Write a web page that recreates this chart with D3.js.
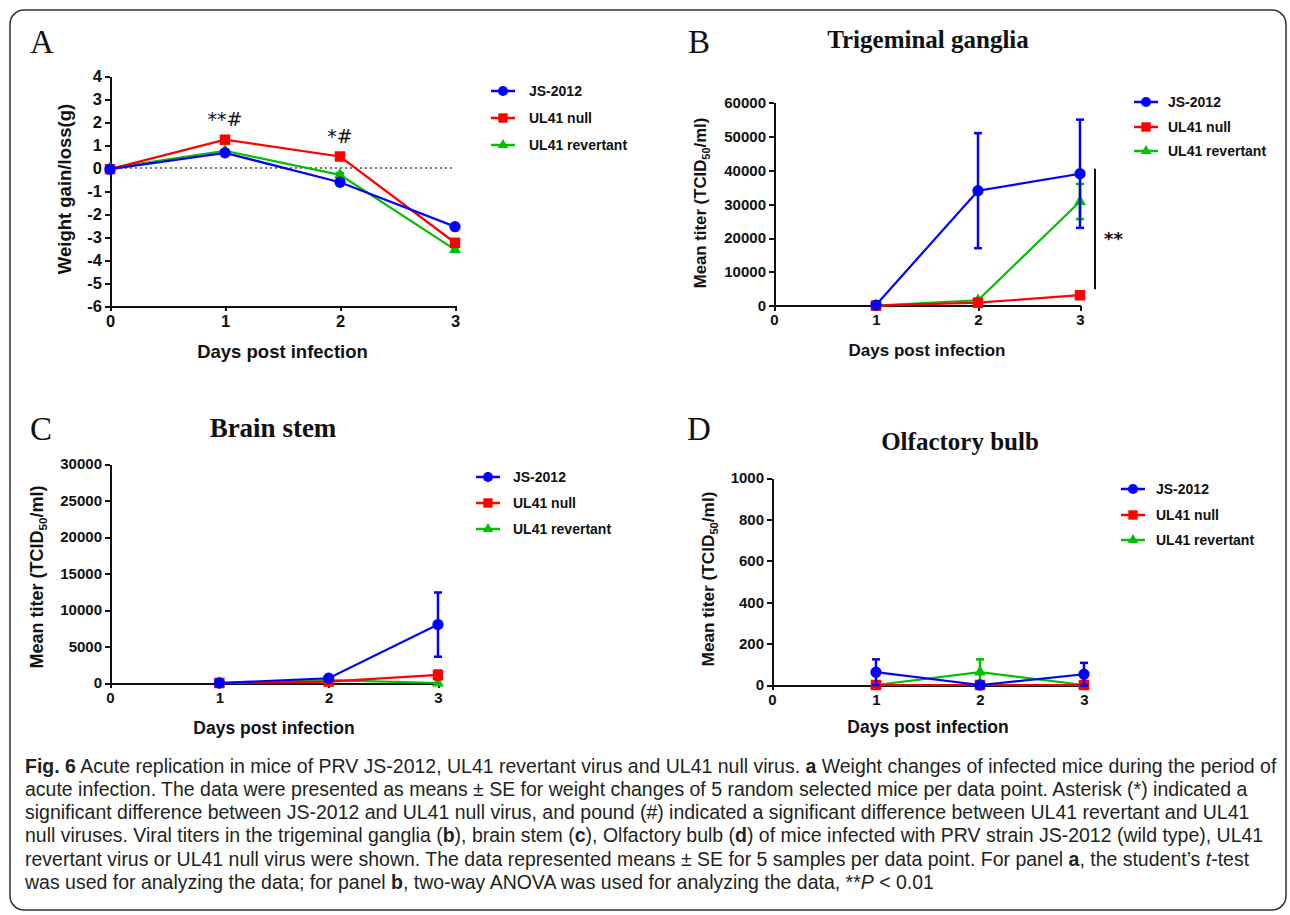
<!DOCTYPE html>
<html>
<head>
<meta charset="utf-8">
<script src="https://cdn.jsdelivr.net/npm/d3@7"></script>
<style>
  body { margin: 0; background: #fff; }
  svg { display: block; }
  .axis path, .axis line { stroke: #111; stroke-width: 2; shape-rendering: crispEdges; }
  .axis text { font-family: 'Liberation Sans', Arial, sans-serif; font-weight: bold; fill: #111; }
  .sans { font-family: 'Liberation Sans', Arial, sans-serif; font-weight: bold; fill: #111; }
  .serif { font-family: 'Liberation Serif', 'Times New Roman', serif; fill: #111; }
  .caption { font-family: 'Liberation Sans', Arial, sans-serif; fill: #231f20; white-space: pre; }
</style>
</head>
<body>
<div id="fig"></div>
<script>
// days post infection
var weightDays = [0, 1, 2, 3];
var titerDays = [1, 2, 3];
var dayTicks = [0, 1, 2, 3];
var seriesNames = ["JS-2012", "UL41 null", "UL41 revertant"];
var seriesColors = ["#0000ff", "#ff0000", "#00c000"];

// panel A - weight gain/loss (g), mean and SE
var weightJS = [-0.05, 0.66, -0.62, -2.55];
var weightJSErr = [0.05, 0.08, 0.12, 0.08];
var weightNull = [-0.05, 1.23, 0.50, -3.25];
var weightNullErr = [0.05, 0.08, 0.10, 0.15];
var weightRev = [0.00, 0.75, -0.30, -3.55];
var weightRevErr = [0.04, 0.05, 0.08, 0.08];
var weightTicks = [-6, -5, -4, -3, -2, -1, 0, 1, 2, 3, 4];

// panel B - trigeminal ganglia titers
var tgJS = [200, 34000, 39000];
var tgJSErr = [200, 17000, 16000];
var tgNull = [0, 900, 3100];
var tgNullErr = [0, 300, 500];
var tgRev = [0, 1600, 30800];
var tgRevErr = [0, 400, 5200];
var tgTicks = [0, 10000, 20000, 30000, 40000, 50000, 60000];

// panel C - brain stem titers
var bsJS = [0, 650, 8000];
var bsJSErr = [0, 300, 4400];
var bsNull = [0, 200, 1100];
var bsNullErr = [0, 100, 600];
var bsRev = [0, 400, 0];
var bsRevErr = [0, 150, 0];
var bsTicks = [0, 5000, 10000, 15000, 20000, 25000, 30000];

// panel D - olfactory bulb titers
var obJS = [62, 0, 52];
var obJSErr = [62, 0, 55];
var obNull = [0, 0, 0];
var obNullErr = [0, 0, 0];
var obRev = [0, 62, 0];
var obRevErr = [0, 62, 0];
var obTicks = [0, 200, 400, 600, 800, 1000];

// significance marks
var weightMarks = [{day: 1, value: 1.23, label: "**#"}, {day: 2, value: 0.50, label: "*#"}];

// figure caption, one entry per printed line: [text, style]
var captionLines = [
  [["Fig. 6", "b"], [" Acute replication in mice of PRV JS-2012, UL41 revertant virus and UL41 null virus. ", ""], ["a", "b"], [" Weight changes of infected mice during the period of", ""]],
  [["acute infection. The data were presented as means \u00b1 SE for weight changes of 5 random selected mice per data point. Asterisk (*) indicated a", ""]],
  [["significant difference between JS-2012 and UL41 null virus, and pound (#) indicated a significant difference between UL41 revertant and UL41", ""]],
  [["null viruses. Viral titers in the trigeminal ganglia (", ""], ["b", "b"], ["), brain stem (", ""], ["c", "b"], ["), Olfactory bulb (", ""], ["d", "b"], [") of mice infected with PRV strain JS-2012 (wild type), UL41", ""]],
  [["revertant virus or UL41 null virus were shown. The data represented means \u00b1 SE for 5 samples per data point. For panel ", ""], ["a", "b"], [", the student\u2019s ", ""], ["t", "i"], ["-test", ""]],
  [["was used for analyzing the data; for panel ", ""], ["b", "b"], [", two-way ANOVA was used for analyzing the data, **", ""], ["P", "i"], [" < 0.01", ""]]
];

var W = 1290, H = 915;
var svg = d3.select("#fig").append("svg").attr("width", W).attr("height", H);

// outer frame
svg.append("rect")
  .attr("x", 10).attr("y", 10).attr("width", 1276).attr("height", 900)
  .attr("rx", 14).attr("fill", "none").attr("stroke", "#333").attr("stroke-width", 1.5);

var symbolTypes = [d3.symbolCircle, d3.symbolSquare, d3.symbolTriangle];
var symbolSizes = [100, 110, 60];
// plain hyphen for negatives, like the original
var tickFmt = function(d){ return String(d); };

/**
 * One line chart panel
 */
function LinePanel(opt){
  var self = this;
  self.opt = opt;
  self.g = svg.append("g");
  self.init();
}

LinePanel.prototype.init = function(){
  var self = this, o = self.opt;
  self.x = d3.scaleLinear().domain([0, 3]).range(o.xRange);
  self.y = d3.scaleLinear().domain([o.yTicks[0], o.yTicks[o.yTicks.length - 1]]).range(o.yRange);
};

LinePanel.prototype.drawAxes = function(){
  var self = this, o = self.opt;

  // dotted zero line (panel A only)
  if (o.zeroLine){
    self.g.append("line")
      .attr("x1", self.x(0)).attr("x2", self.x(3))
      .attr("y1", self.y(0)).attr("y2", self.y(0))
      .attr("stroke", "#777").attr("stroke-width", 2).attr("stroke-dasharray", "2,3");
  }

  var xAxisY = o.zeroLine ? self.y(o.yTicks[0]) : self.y(0);
  var xa = self.g.append("g").attr("class", "axis")
    .attr("transform", "translate(0," + xAxisY + ")")
    .call(d3.axisBottom(self.x).tickValues(dayTicks).tickFormat(tickFmt).tickSize(5).tickSizeOuter(0).tickPadding(4));
  xa.selectAll("text").style("font-size", o.tickFont + "px");

  var ya = self.g.append("g").attr("class", "axis")
    .attr("transform", "translate(" + self.x(0) + ",0)")
    .call(d3.axisLeft(self.y).tickValues(o.yTicks).tickFormat(tickFmt).tickSize(5).tickSizeOuter(0).tickPadding(3));
  ya.selectAll("text").style("font-size", o.tickFont + "px");

  // axis titles
  self.g.append("text").attr("class", "sans")
    .attr("x", (self.x(0) + self.x(3)) / 2).attr("y", o.xTitleY)
    .attr("text-anchor", "middle").style("font-size", o.titleFont + "px")
    .text("Days post infection");

  var yt = self.g.append("text").attr("class", "sans")
    .attr("transform", "translate(" + (o.yTitle[0] + o.yTitleFont * 0.36) + "," + o.yTitle[1] + ") rotate(-90)")
    .attr("text-anchor", "middle").style("font-size", o.yTitleFont + "px");
  if (o.titer){
    yt.append("tspan").text("Mean titer (TCID");
    yt.append("tspan").attr("dy", 4).style("font-size", (o.yTitleFont * 0.65) + "px").text("50");
    yt.append("tspan").attr("dy", -4).text("/ml)");
  } else {
    yt.text("Weight gain/loss(g)");
  }

  // panel letter and title
  svg.append("text").attr("class", "serif")
    .attr("x", o.letter[1]).attr("y", o.letter[2])
    .style("font-size", "33px").text(o.letter[0]);
  if (o.title){
    svg.append("text").attr("class", "serif")
      .attr("x", o.title[1]).attr("y", o.title[2]).attr("text-anchor", "middle")
      .style("font-size", o.title[3] + "px").style("font-weight", "bold")
      .text(o.title[0]);
  }
};

LinePanel.prototype.drawSeries = function(){
  var self = this, o = self.opt;
  var line = d3.line().x(function(d){ return self.x(d.day); }).y(function(d){ return self.y(d.value); });

  // draw revertant first, JS-2012 last (on top)
  [2, 1, 0].forEach(function(k){
    var s = o.series[k];
    var pts = s.values.map(function(v, i){ return {day: s.days[i], value: v, err: s.errs[i]}; });
    var g = self.g.append("g");

    g.append("path").datum(pts)
      .attr("d", line).attr("fill", "none")
      .attr("stroke", seriesColors[k]).attr("stroke-width", 2.2);

    var eb = g.selectAll(".err").data(pts.filter(function(d){ return d.err > 0; }))
      .enter().append("g").attr("class", "err")
      .attr("stroke", seriesColors[k]).attr("stroke-width", 2.5);
    eb.append("line")
      .attr("x1", function(d){ return self.x(d.day); }).attr("x2", function(d){ return self.x(d.day); })
      .attr("y1", function(d){ return self.y(d.value - d.err); }).attr("y2", function(d){ return self.y(d.value + d.err); });
    [1, -1].forEach(function(sign){
      eb.append("line")
        .attr("x1", function(d){ return self.x(d.day) - 4; }).attr("x2", function(d){ return self.x(d.day) + 4; })
        .attr("y1", function(d){ return self.y(d.value + sign * d.err); })
        .attr("y2", function(d){ return self.y(d.value + sign * d.err); });
    });

    g.selectAll(".pt").data(pts).enter().append("path")
      .attr("class", "pt")
      .attr("transform", function(d){ return "translate(" + self.x(d.day) + "," + self.y(d.value) + ")"; })
      .attr("d", d3.symbol().type(symbolTypes[k]).size(symbolSizes[k]))
      .attr("fill", seriesColors[k]);
  });
};

LinePanel.prototype.drawLegend = function(){
  var self = this, o = self.opt;
  var lg = self.g.selectAll(".legend").data(seriesNames).enter().append("g")
    .attr("class", "legend")
    .attr("transform", function(d, i){ return "translate(" + o.legend[0] + "," + o.legend[i + 2] + ")"; });
  lg.append("line").attr("x1", -12).attr("x2", 12)
    .attr("stroke", function(d, i){ return seriesColors[i]; }).attr("stroke-width", 2.5);
  lg.append("path")
    .attr("d", function(d, i){ return d3.symbol().type(symbolTypes[i]).size(symbolSizes[i] * 0.8)(); })
    .attr("fill", function(d, i){ return seriesColors[i]; });
  lg.append("text").attr("class", "sans")
    .attr("x", o.legend[1] - o.legend[0]).attr("y", 5)
    .style("font-size", "14px").text(function(d){ return d; });
};

function makeSeries(days, list){
  return list.map(function(p){ return {days: days, values: p[0], errs: p[1]}; });
}

// A - weight
var panelA = new LinePanel({
  xRange: [110, 455], yRange: [306, 76], yTicks: weightTicks, zeroLine: true,
  tickFont: 16.5, titleFont: 18.5, xTitleY: 358, yTitle: [64, 189], yTitleFont: 18.5,
  letter: ["A", 30, 53], title: null,
  legend: [503, 529, 91, 118, 145],
  series: makeSeries(weightDays, [[weightJS, weightJSErr], [weightNull, weightNullErr], [weightRev, weightRevErr]])
});
// B - trigeminal ganglia
var panelB = new LinePanel({
  xRange: [774, 1080], yRange: [305.7, 102.7], yTicks: tgTicks, titer: true,
  tickFont: 15, titleFont: 17, xTitleY: 356, yTitle: [700, 203], yTitleFont: 16.8,
  letter: ["B", 688, 53], title: ["Trigeminal ganglia", 928, 48, 25],
  legend: [1146, 1168, 102, 127, 151],
  series: makeSeries(titerDays, [[tgJS, tgJSErr], [tgNull, tgNullErr], [tgRev, tgRevErr]])
});
// C - brain stem
var panelC = new LinePanel({
  xRange: [110, 438], yRange: [683, 464], yTicks: bsTicks, titer: true,
  tickFont: 15, titleFont: 17.5, xTitleY: 734, yTitle: [37, 577], yTitleFont: 18,
  letter: ["C", 30, 440], title: ["Brain stem", 273, 437, 27],
  legend: [488, 513, 477, 503, 529],
  series: makeSeries(titerDays, [[bsJS, bsJSErr], [bsNull, bsNullErr], [bsRev, bsRevErr]])
});
// D - olfactory bulb
var panelD = new LinePanel({
  xRange: [772, 1084], yRange: [685, 478], yTicks: obTicks, titer: true,
  tickFont: 15, titleFont: 17.5, xTitleY: 733, yTitle: [708, 579], yTitleFont: 17.2,
  letter: ["D", 687, 440], title: ["Olfactory bulb", 960, 450, 25],
  legend: [1133, 1156, 489, 515, 540],
  series: makeSeries(titerDays, [[obJS, obJSErr], [obNull, obNullErr], [obRev, obRevErr]])
});

[panelA, panelB, panelC, panelD].forEach(function(p){
  p.drawAxes();
  p.drawSeries();
  p.drawLegend();
});

// significance labels in A
panelA.g.selectAll(".sig").data(weightMarks).enter().append("text")
  .attr("class", "sig")
  .attr("x", function(d){ return panelA.x(d.day); })
  .attr("y", function(d){ return panelA.y(d.value) - 14; })
  .attr("text-anchor", "middle")
  .style("font-family", "'DejaVu Sans', sans-serif").style("font-size", "19px").style("fill", "#111")
  .text(function(d){ return d.label; });

// ANOVA bar in B spanning day-3 groups
var barX = panelB.x(3) + 15;
panelB.g.append("line")
  .attr("x1", barX).attr("x2", barX)
  .attr("y1", panelB.y(tgNull[2]) - 6).attr("y2", panelB.y(tgJS[2]) - 5)
  .attr("stroke", "#111").attr("stroke-width", 2);
panelB.g.append("text")
  .attr("x", barX + 9).attr("y", panelB.y((tgJS[2] + tgNull[2]) / 2) + 11)
  .style("font-family", "'DejaVu Sans', sans-serif").style("font-weight", "bold")
  .style("font-size", "18px").style("fill", "#111").text("**");

// caption: every styled run is its own text, laid out left to right
var cap = svg.append("g");
function drawCaption(size){
  cap.selectAll("*").remove();
  var widths = [];
  captionLines.forEach(function(runs, i){
    var cx = 25;
    runs.forEach(function(r){
      var t = cap.append("text").attr("class", "caption")
        .attr("x", cx).attr("y", 772.5 + i * 23.3)
        .style("font-size", size + "px")
        .style("font-weight", r[1] === "b" ? "bold" : null)
        .style("font-style", r[1] === "i" ? "italic" : null)
        .text(r[0]);
      cx += t.node().getComputedTextLength();
    });
    widths.push(cx - 25);
  });
  return widths;
}
var w0 = drawCaption(16);
// fit the first line to its printed width
drawCaption(16 * 1252 / w0[0]);
</script>
</body>
</html>
